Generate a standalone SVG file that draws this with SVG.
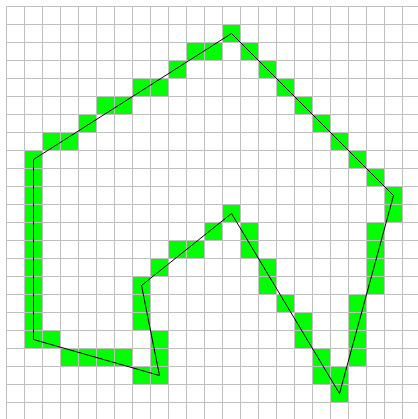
<svg xmlns="http://www.w3.org/2000/svg" width="418" height="419" viewBox="0 0 418 419">
<style>
.cell{fill:#00ff00;stroke:none}
.grid{fill:none;stroke:#c0c0c0;stroke-width:1}
.poly{fill:none;stroke:#000;stroke-width:1}
</style>
<rect width="418" height="419" fill="#fff"/>
<g id="cells">
<rect class="cell" x="222.5" y="24.5" width="18" height="18"/>
<rect class="cell" x="186.5" y="42.5" width="18" height="18"/>
<rect class="cell" x="204.5" y="42.5" width="18" height="18"/>
<rect class="cell" x="240.5" y="42.5" width="18" height="18"/>
<rect class="cell" x="168.5" y="60.5" width="18" height="18"/>
<rect class="cell" x="258.5" y="60.5" width="18" height="18"/>
<rect class="cell" x="132.5" y="78.5" width="18" height="18"/>
<rect class="cell" x="150.5" y="78.5" width="18" height="18"/>
<rect class="cell" x="276.5" y="78.5" width="18" height="18"/>
<rect class="cell" x="96.5" y="96.5" width="18" height="18"/>
<rect class="cell" x="114.5" y="96.5" width="18" height="18"/>
<rect class="cell" x="294.5" y="96.5" width="18" height="18"/>
<rect class="cell" x="78.5" y="114.5" width="18" height="18"/>
<rect class="cell" x="312.5" y="114.5" width="18" height="18"/>
<rect class="cell" x="42.5" y="132.5" width="18" height="18"/>
<rect class="cell" x="60.5" y="132.5" width="18" height="18"/>
<rect class="cell" x="330.5" y="132.5" width="18" height="18"/>
<rect class="cell" x="24.5" y="150.5" width="18" height="18"/>
<rect class="cell" x="348.5" y="150.5" width="18" height="18"/>
<rect class="cell" x="24.5" y="168.5" width="18" height="18"/>
<rect class="cell" x="366.5" y="168.5" width="18" height="18"/>
<rect class="cell" x="24.5" y="186.5" width="18" height="18"/>
<rect class="cell" x="384.5" y="186.5" width="18" height="18"/>
<rect class="cell" x="24.5" y="204.5" width="18" height="18"/>
<rect class="cell" x="222.5" y="204.5" width="18" height="18"/>
<rect class="cell" x="384.5" y="204.5" width="18" height="18"/>
<rect class="cell" x="24.5" y="222.5" width="18" height="18"/>
<rect class="cell" x="204.5" y="222.5" width="18" height="18"/>
<rect class="cell" x="240.5" y="222.5" width="18" height="18"/>
<rect class="cell" x="366.5" y="222.5" width="18" height="18"/>
<rect class="cell" x="24.5" y="240.5" width="18" height="18"/>
<rect class="cell" x="168.5" y="240.5" width="18" height="18"/>
<rect class="cell" x="186.5" y="240.5" width="18" height="18"/>
<rect class="cell" x="240.5" y="240.5" width="18" height="18"/>
<rect class="cell" x="366.5" y="240.5" width="18" height="18"/>
<rect class="cell" x="24.5" y="258.5" width="18" height="18"/>
<rect class="cell" x="150.5" y="258.5" width="18" height="18"/>
<rect class="cell" x="258.5" y="258.5" width="18" height="18"/>
<rect class="cell" x="366.5" y="258.5" width="18" height="18"/>
<rect class="cell" x="24.5" y="276.5" width="18" height="18"/>
<rect class="cell" x="132.5" y="276.5" width="18" height="18"/>
<rect class="cell" x="258.5" y="276.5" width="18" height="18"/>
<rect class="cell" x="366.5" y="276.5" width="18" height="18"/>
<rect class="cell" x="24.5" y="294.5" width="18" height="18"/>
<rect class="cell" x="132.5" y="294.5" width="18" height="18"/>
<rect class="cell" x="276.5" y="294.5" width="18" height="18"/>
<rect class="cell" x="348.5" y="294.5" width="18" height="18"/>
<rect class="cell" x="24.5" y="312.5" width="18" height="18"/>
<rect class="cell" x="132.5" y="312.5" width="18" height="18"/>
<rect class="cell" x="294.5" y="312.5" width="18" height="18"/>
<rect class="cell" x="348.5" y="312.5" width="18" height="18"/>
<rect class="cell" x="24.5" y="330.5" width="18" height="18"/>
<rect class="cell" x="42.5" y="330.5" width="18" height="18"/>
<rect class="cell" x="150.5" y="330.5" width="18" height="18"/>
<rect class="cell" x="294.5" y="330.5" width="18" height="18"/>
<rect class="cell" x="348.5" y="330.5" width="18" height="18"/>
<rect class="cell" x="60.5" y="348.5" width="18" height="18"/>
<rect class="cell" x="78.5" y="348.5" width="18" height="18"/>
<rect class="cell" x="96.5" y="348.5" width="18" height="18"/>
<rect class="cell" x="114.5" y="348.5" width="18" height="18"/>
<rect class="cell" x="150.5" y="348.5" width="18" height="18"/>
<rect class="cell" x="312.5" y="348.5" width="18" height="18"/>
<rect class="cell" x="348.5" y="348.5" width="18" height="18"/>
<rect class="cell" x="132.5" y="366.5" width="18" height="18"/>
<rect class="cell" x="150.5" y="366.5" width="18" height="18"/>
<rect class="cell" x="312.5" y="366.5" width="18" height="18"/>
<rect class="cell" x="330.5" y="366.5" width="18" height="18"/>
<rect class="cell" x="330.5" y="384.5" width="18" height="18"/>
</g>
<g id="grid">
<path class="grid" d="M6.5 6.5V419M24.5 6.5V419M42.5 6.5V419M60.5 6.5V419M78.5 6.5V419M96.5 6.5V419M114.5 6.5V419M132.5 6.5V419M150.5 6.5V419M168.5 6.5V419M186.5 6.5V419M204.5 6.5V419M222.5 6.5V419M240.5 6.5V419M258.5 6.5V419M276.5 6.5V419M294.5 6.5V419M312.5 6.5V419M330.5 6.5V419M348.5 6.5V419M366.5 6.5V419M384.5 6.5V419M402.5 6.5V419"/>
<path class="grid" d="M6.5 6.5H418M6.5 24.5H418M6.5 42.5H418M6.5 60.5H418M6.5 78.5H418M6.5 96.5H418M6.5 114.5H418M6.5 132.5H418M6.5 150.5H418M6.5 168.5H418M6.5 186.5H418M6.5 204.5H418M6.5 222.5H418M6.5 240.5H418M6.5 258.5H418M6.5 276.5H418M6.5 294.5H418M6.5 312.5H418M6.5 330.5H418M6.5 348.5H418M6.5 366.5H418M6.5 384.5H418M6.5 402.5H418"/>
</g>
<g id="polygon">
<polygon class="poly" points="33.5,159.5 231.5,33.5 393.5,195.5 339.5,393.5 231.5,213.5 141.5,285.5 159.5,375.5 33.5,339.5"/>
</g>
</svg>
